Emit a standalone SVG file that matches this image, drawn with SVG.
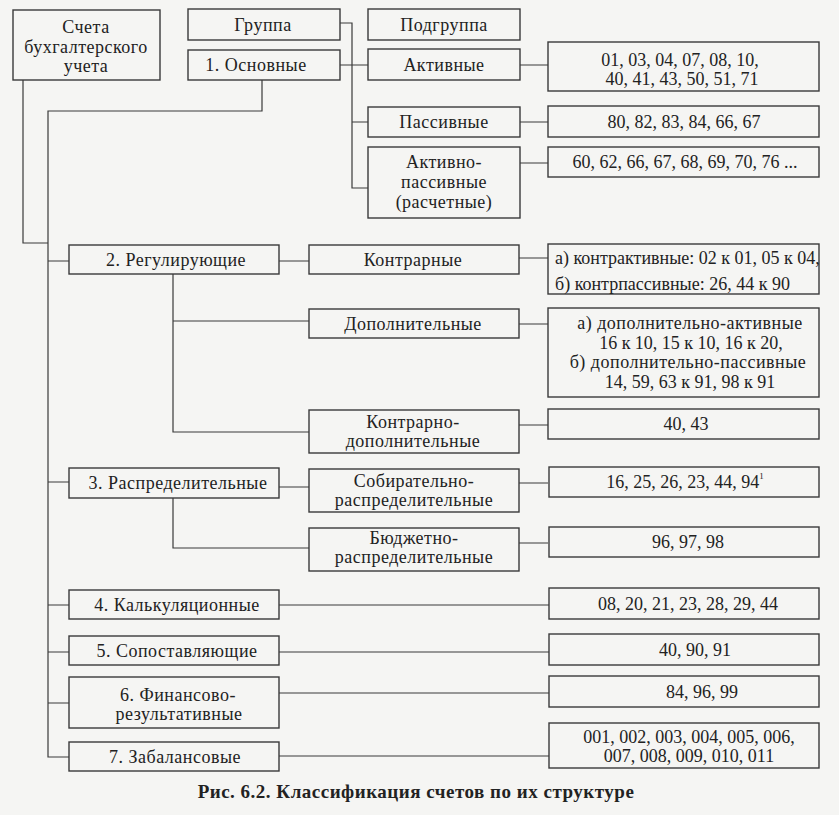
<svg xmlns="http://www.w3.org/2000/svg" width="839" height="815" viewBox="0 0 839 815">
<style>
.bg{fill:#f5f5f3}
.box{fill:#f5f5f3;stroke:#3a3a3a;stroke-width:1.4}
.ln{fill:none;stroke:#3a3a3a;stroke-width:1.2}
text{font-family:"Liberation Serif","Times New Roman",serif;font-size:18px;fill:#222}
.c{text-anchor:middle}
.w{letter-spacing:0.5px}
.cap{font-weight:bold;font-size:19px;letter-spacing:0.5px}
</style>
<rect class="bg" x="0" y="0" width="839" height="815"/>
<g id="connectors">
<path class="ln" d="M340,23H352V188H368M340,65H368M352,122H368"/>
<path class="ln" d="M520,65H548M520,122H548M520,163H548"/>
<path class="ln" d="M23,80V243H48M262,80V111H48V757H69"/>
<path class="ln" d="M48,261H69M279,261H309M173,274V432H309M173,321H309"/>
<path class="ln" d="M519,258H548M519,324H548M519,425H548"/>
<path class="ln" d="M48,482H69M279,487H309M173,498V548H309M519,483H548M519,543H548"/>
<path class="ln" d="M48,605H69M279,605H549M48,652H69M279,652H549M48,703H69M279,693H549M279,756H549"/>
</g>
<g id="n-root"><rect class="box" x="13" y="10" width="147" height="70"/><text class="c w" x="86" y="33">Счета</text><text class="c w" x="86" y="53">бухгалтерского</text><text class="c w" x="86" y="72">учета</text></g>
<g id="n-group"><rect class="box" x="188" y="9" width="152" height="31"/><text class="c w" x="263" y="31">Группа</text></g>
<g id="n-subgroup"><rect class="box" x="368" y="9" width="152" height="31"/><text class="c w" x="444" y="31">Подгруппа</text></g>
<g id="n-g1"><rect class="box" x="188" y="50" width="152" height="30"/><text class="c w" x="256" y="71">1. Основные</text></g>
<g id="n-active"><rect class="box" x="368" y="49" width="152" height="31"/><text class="c w" x="444" y="71">Активные</text></g>
<g id="n-passive"><rect class="box" x="368" y="107" width="152" height="30"/><text class="c w" x="444" y="128">Пассивные</text></g>
<g id="n-actpas"><rect class="box" x="368" y="147" width="152" height="71"/><text class="c w" x="444" y="168">Активно-</text><text class="c w" x="444" y="188">пассивные</text><text class="c w" x="444" y="208">(расчетные)</text></g>
<g id="r-active"><rect class="box" x="548" y="42" width="271" height="49"/><text class="c" x="680" y="66">01, 03, 04, 07, 08, 10,</text><text class="c" x="682" y="85">40, 41, 43, 50, 51, 71</text></g>
<g id="r-passive"><rect class="box" x="548" y="106" width="271" height="31"/><text class="c" x="684" y="128">80, 82, 83, 84, 66, 67</text></g>
<g id="r-actpas"><rect class="box" x="548" y="147" width="271" height="30"/><text class="c" x="685" y="168">60, 62, 66, 67, 68, 69, 70, 76 ...</text></g>
<g id="n-g2"><rect class="box" x="69" y="245" width="210" height="29"/><text class="c w" x="176" y="266">2. Регулирующие</text></g>
<g id="n-contra"><rect class="box" x="309" y="245" width="210" height="29"/><text class="c w" x="413" y="266">Контрарные</text></g>
<g id="n-dop"><rect class="box" x="309" y="309" width="210" height="29"/><text class="c w" x="413" y="330">Дополнительные</text></g>
<g id="n-contradop"><rect class="box" x="309" y="410" width="210" height="43"/><text class="c w" x="413" y="428">Контрарно-</text><text class="c w" x="413" y="447">дополнительные</text></g>
<g id="r-contra"><rect class="box" x="548" y="244" width="271" height="50"/><text x="555" y="264">а) контрактивные: 02 к 01, 05 к 04,</text><text x="555" y="290">б) контрпассивные: 26, 44 к 90</text></g>
<g id="r-dop"><rect class="box" x="548" y="308" width="271" height="89"/><text class="c w" x="690" y="329">а) дополнительно-активные</text><text class="c" x="691" y="349">16 к 10, 15 к 10, 16 к 20,</text><text class="c w" x="688" y="368">б) дополнительно-пассивные</text><text class="c" x="690" y="388">14, 59, 63 к 91, 98 к 91</text></g>
<g id="r-contradop"><rect class="box" x="548" y="409" width="271" height="30"/><text class="c" x="686" y="430">40, 43</text></g>
<g id="n-g3"><rect class="box" x="69" y="468" width="210" height="30"/><text class="c w" x="178" y="489">3. Распределительные</text></g>
<g id="n-sobir"><rect class="box" x="309" y="469" width="210" height="43"/><text class="c w" x="414" y="487">Собирательно-</text><text class="c w" x="414" y="506">распределительные</text></g>
<g id="n-budget"><rect class="box" x="309" y="528" width="210" height="43"/><text class="c w" x="414" y="544">Бюджетно-</text><text class="c w" x="414" y="563">распределительные</text></g>
<g id="r-sobir"><rect class="box" x="549" y="467" width="270" height="30"/><text class="c" x="685" y="488">16, 25, 26, 23, 44, 94<tspan font-size="9" dy="-9">1</tspan></text></g>
<g id="r-budget"><rect class="box" x="549" y="527" width="270" height="30"/><text class="c" x="688" y="548">96, 97, 98</text></g>
<g id="n-g4"><rect class="box" x="69" y="590" width="210" height="29"/><text class="c w" x="177" y="611">4. Калькуляционные</text></g>
<g id="r-g4"><rect class="box" x="549" y="588" width="270" height="31"/><text class="c" x="688" y="610">08, 20, 21, 23, 28, 29, 44</text></g>
<g id="n-g5"><rect class="box" x="69" y="636" width="210" height="29"/><text class="c w" x="177" y="657">5. Сопоставляющие</text></g>
<g id="r-g5"><rect class="box" x="549" y="634" width="270" height="31"/><text class="c" x="695" y="656">40, 90, 91</text></g>
<g id="n-g6"><rect class="box" x="69" y="677" width="210" height="51"/><text class="c w" x="178" y="701">6. Финансово-</text><text class="c w" x="179" y="720">результативные</text></g>
<g id="r-g6"><rect class="box" x="549" y="676" width="270" height="31"/><text class="c" x="702" y="698">84, 96, 99</text></g>
<g id="n-g7"><rect class="box" x="69" y="742" width="210" height="29"/><text class="c w" x="175" y="763">7. Забалансовые</text></g>
<g id="r-g7"><rect class="box" x="549" y="723" width="270" height="45"/><text class="c" x="689" y="743">001, 002, 003, 004, 005, 006,</text><text class="c" x="689" y="762">007, 008, 009, 010, 011</text></g>
<text class="cap c" x="416" y="798">Рис. 6.2. Классификация счетов по их структуре</text>
</svg>
